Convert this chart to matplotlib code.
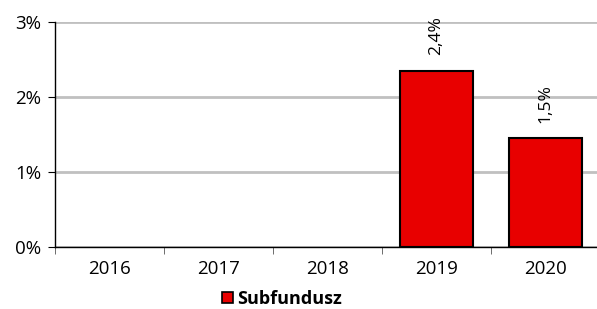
import matplotlib.pyplot as plt
from matplotlib.patches import Patch

plt.rcParams['font.family'] = ['Open Sans', 'DejaVu Sans']

years = ["2016", "2017", "2018", "2019", "2020"]
values = [None, None, None, 2.35, 1.45]
labels = [None, None, None, "2,4%", "1,5%"]
series_name = "Subfundusz"

fig = plt.figure(figsize=(5.97, 3.09), dpi=100)
ax = fig.add_axes([55 / 597, 1 - 247 / 309, 545 / 597, 225 / 309])

xs = list(range(len(years)))
for x, v, lab in zip(xs, values, labels):
    if v is None:
        continue
    ax.bar(x, v, width=0.67, color="#e80000", edgecolor="black", linewidth=1.5, zorder=3)
    ax.annotate(lab, (x, v), xytext=(0, 11), textcoords="offset points",
                rotation=90, ha="center", va="bottom", fontsize=12.5)

ax.set_xlim(-0.5, len(years) - 0.5)
ax.set_ylim(0, 3)
ax.set_yticks([0, 1, 2, 3])
ax.set_yticklabels([f"{t}%" for t in [0, 1, 2, 3]], fontsize=13.5)
ax.set_xticks(xs)
ax.set_xticklabels(years, fontsize=13.5)
ax.tick_params(axis="x", length=0, pad=9)
ax.set_xticks([x + 0.5 for x in xs[:-1]] + [-0.5], minor=True)
ax.tick_params(axis="x", which="minor", length=5, color="#555555")
ax.tick_params(axis="y", length=5, pad=5)
ax.grid(axis="y", color="#c0c0c0", linewidth=2, zorder=0)
ax.set_axisbelow(True)
for s in ["top", "right"]:
    ax.spines[s].set_visible(False)
ax.spines["left"].set_linewidth(1)
ax.spines["bottom"].set_linewidth(1)

handle = Patch(facecolor="#e80000", edgecolor="black", linewidth=1.2)
fig.legend([handle], [series_name], loc="center", bbox_to_anchor=(282 / 597, 1 - 299 / 309),
           frameon=False, prop={"weight": "bold", "size": 13}, handlelength=0.6,
           handleheight=0.6, handletextpad=0.25, borderpad=0)

fig.savefig("out.png", dpi=100)
